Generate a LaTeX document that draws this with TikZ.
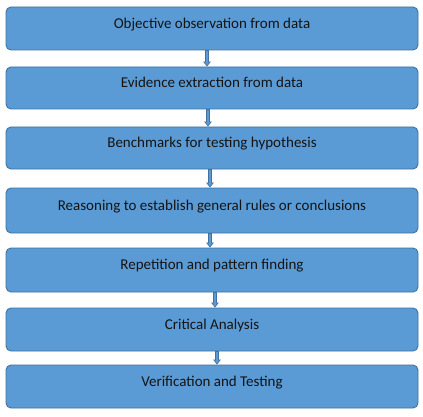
\documentclass[tikz,border=0pt]{standalone}
\usepackage{fontspec}
\setmainfont{Carlito}
\usetikzlibrary{arrows.meta}
\definecolor{boxfill}{HTML}{5B9BD5}
\definecolor{boxline}{HTML}{41719C}
\definecolor{textcol}{HTML}{141414}
\tikzset{
	stage/.style={draw=boxline, line width=0.9pt, fill=boxfill, rounded corners=5pt,
		minimum width=412pt, minimum height=#1, inner sep=0pt,
		text height=10pt, text depth=10.6pt, text=textcol,
		font=\fontsize{15}{18}\selectfont},
	linkedge/.style={draw=boxline, line width=3.2pt, -{Triangle[width=7.5pt,length=5pt]}},
	linkcore/.style={draw=boxfill, line width=1.4pt, shorten >=1.2pt, -{Triangle[width=4pt,length=3pt]}}
}
\begin{document}
\begin{tikzpicture}[x=1pt,y=-1pt]
	\useasboundingbox[fill=white] (0,0) rectangle (423,417);
	\node[stage=43pt] (obs) at (212,28.5) {Objective observation from data};
	\node[stage=42pt] (evid) at (212,88) {Evidence extraction from data};
	\node[stage=42pt] (bench) at (212,148) {Benchmarks for testing hypothesis};
	\node[stage=45pt] (reason) at (212,210.5) {Reasoning to establish general rules or conclusions};
	\node[stage=44pt] (rep) at (212,270) {Repetition and pattern finding};
	\node[stage=43pt] (crit) at (212,329.5) {Critical Analysis};
	\node[stage=43pt] (verif) at (212,386.5) {Verification and Testing};
	% arrows between the stages
	\foreach \a/\b/\dx in {obs/evid/-5,evid/bench/-4,bench/reason/-2,reason/rep/-2,rep/crit/3,crit/verif/5}{
		\draw[linkedge] ([xshift=\dx pt]\a.south) -- ([xshift=\dx pt]\b.north);
		\draw[linkcore] ([xshift=\dx pt,yshift=-0.5pt]\a.south) -- ([xshift=\dx pt]\b.north);
	}
\end{tikzpicture}
\end{document}
